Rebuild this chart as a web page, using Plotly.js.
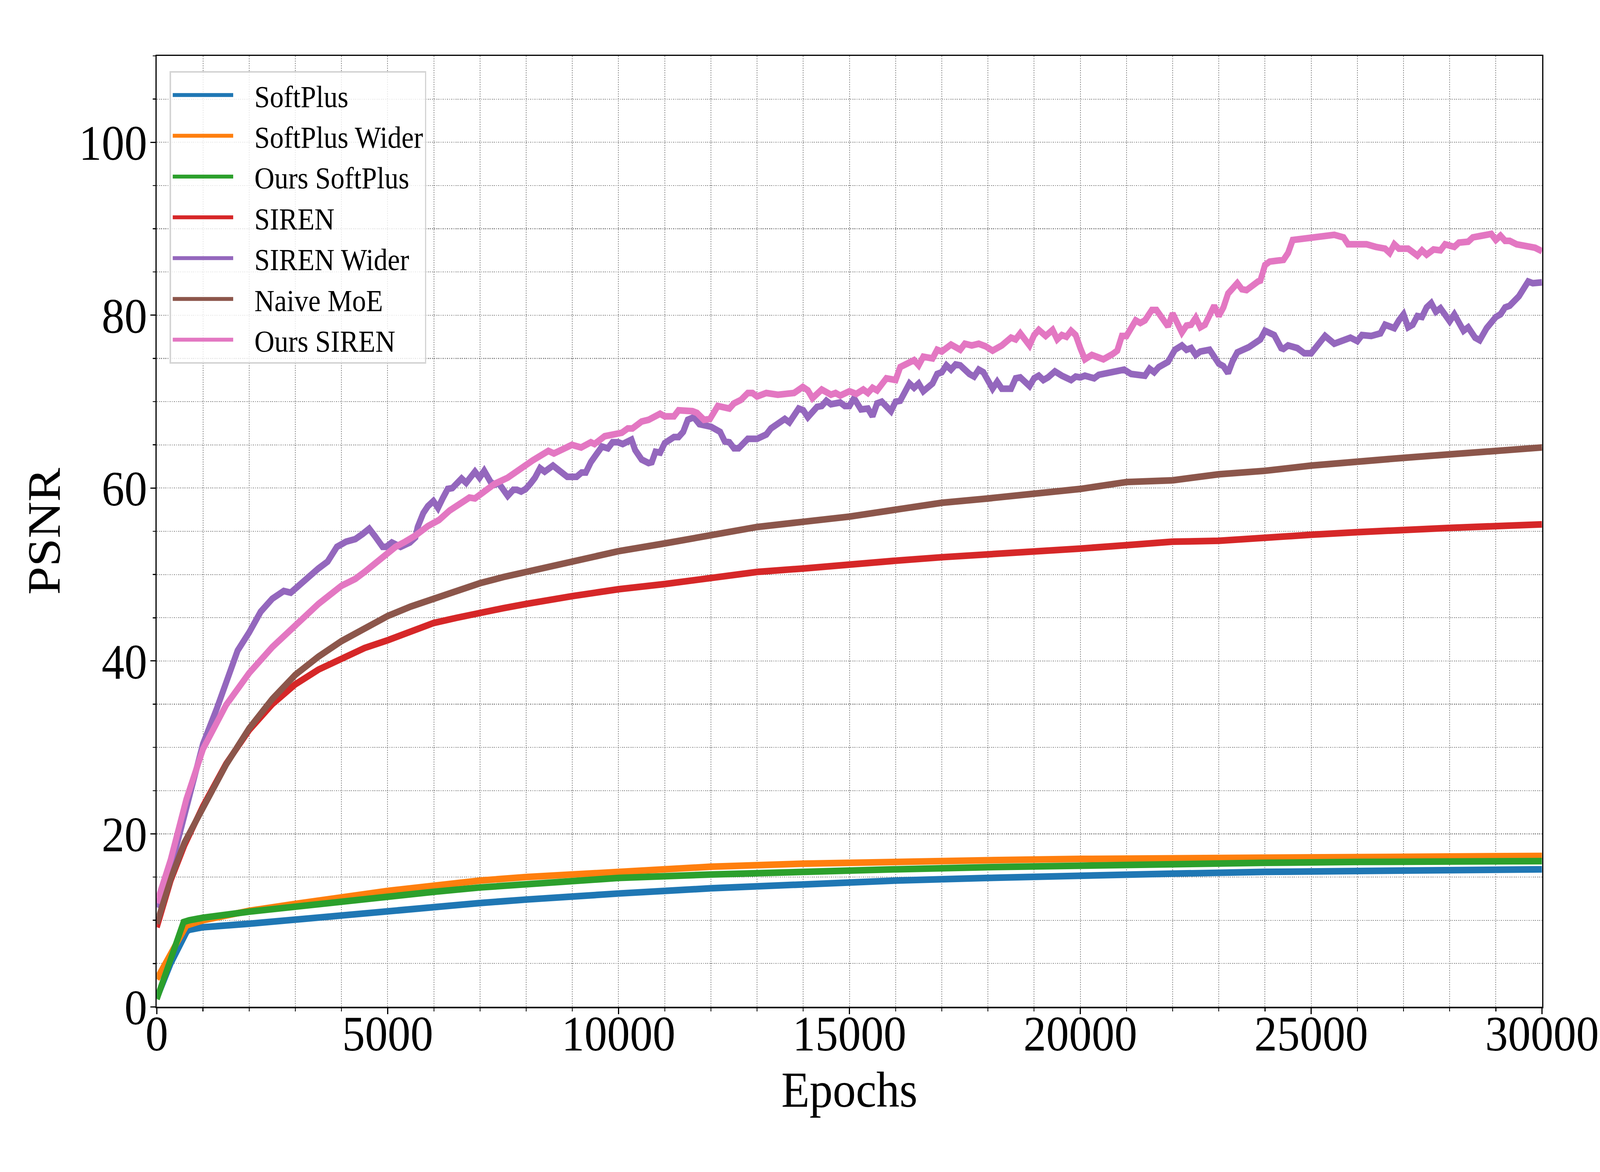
<!DOCTYPE html>
<html>
<head>
<meta charset="utf-8">
<script src="https://cdn.plot.ly/plotly-3.0.1.min.js"></script>
<style>
  html, body { margin: 0; padding: 0; background: #fff; overflow: hidden; }
  #chart { width: 4500px; height: 3000px; transform-origin: 0 0; }
</style>
</head>
<body>
<div id="chart"></div>
<script>
'use strict';

// Series names and colours (matplotlib tab10)
var seriesNames = ['SoftPlus', 'SoftPlus Wider', 'Ours SoftPlus', 'SIREN', 'SIREN Wider', 'Naive MoE', 'Ours SIREN'];
var seriesColors = ['#1f77b4', '#ff7f0e', '#2ca02c', '#d62728', '#9467bd', '#8c564b', '#e377c2'];

var softplusEpochs = [0, 300, 650, 700, 800, 1000, 2000, 3000, 4000, 5000, 6000, 7000, 8000, 9000, 10000,
    12000, 14000, 16000, 18000, 20000, 22000, 24000, 26000, 28000, 30000];
var softplusPsnr = [1.0, 5.0, 8.7, 8.9, 9.0, 9.2, 9.6, 10.1, 10.6, 11.1, 11.6, 12.0, 12.4, 12.8, 13.1,
    13.7, 14.2, 14.6, 14.9, 15.2, 15.4, 15.6, 15.7, 15.8, 15.9];

var softplusWiderEpochs = [0, 640, 1000, 2000, 3000, 4000, 5000, 6000, 7000, 8000, 9000, 10000,
    12000, 14000, 16000, 18000, 20000, 22000, 24000, 26000, 28000, 30000];
var softplusWiderPsnr = [3.2, 9.4, 10.0, 11.1, 11.9, 12.7, 13.4, 14.0, 14.6, 15.0, 15.3, 15.6,
    16.2, 16.55, 16.8, 16.95, 17.1, 17.2, 17.3, 17.4, 17.45, 17.45];

var oursSoftplusEpochs = [0, 580, 700, 1000, 2000, 3000, 4000, 5000, 6000, 7000, 8000, 9000, 10000,
    12000, 14000, 16000, 18000, 20000, 22000, 24000, 26000, 28000, 30000];
var oursSoftplusPsnr = [0.9, 9.8, 10.0, 10.3, 11.0, 11.6, 12.2, 12.8, 13.3, 13.8, 14.2, 14.6, 14.9,
    15.3, 15.65, 15.9, 16.15, 16.35, 16.5, 16.65, 16.75, 16.8, 16.85];

var sirenEpochs = [0, 300, 600, 1000, 1500, 2000, 2500, 3000, 3500, 4000, 4500, 5000, 5500, 6000, 6500,
    7000, 7500, 8000, 8500, 9000, 9500, 10000, 11000, 12000, 13000, 14000, 15000, 16000, 17000, 18000,
    19000, 20000, 21000, 22000, 23000, 24000, 25000, 26000, 27000, 28000, 29000, 30000];
var sirenPsnr = [9.2, 14.6, 18.7, 23.2, 28.1, 32.0, 35.0, 37.3, 39.0, 40.3, 41.5, 42.4, 43.4, 44.4, 45.0,
    45.6, 46.1, 46.6, 47.1, 47.5, 47.9, 48.3, 48.9, 49.6, 50.3, 50.7, 51.2, 51.6, 52.0, 52.3,
    52.7, 53.0, 53.4, 53.8, 53.9, 54.3, 54.6, 54.9, 55.2, 55.4, 55.6, 55.8];

var sirenWiderEpochs = [0, 300, 640, 1000, 1300, 1500, 1750, 2000, 2250, 2500, 2750, 2900, 3100, 3300,
    3500, 3700, 3900, 4100, 4300, 4460, 4600, 4730, 4890, 4970, 5090, 5280, 5480, 5600, 5650, 5770,
    5870, 5990, 6090, 6190, 6300, 6400, 6480, 6600, 6700, 6790, 6890, 6990, 7090, 7230, 7320, 7400,
    7500, 7600, 7720, 7800, 7890, 7990, 8090, 8190, 8300, 8400, 8580, 8730, 8890, 9090, 9200, 9290,
    9400, 9520, 9640, 9770, 9870, 9990, 10090, 10280, 10360, 10500, 10650, 10720, 10800, 10900, 11000,
    11200, 11300, 11400, 11500, 11630, 11750, 12000, 12200, 12300, 12400, 12500, 12600, 12800, 13000,
    13200, 13300, 13600, 13700, 13900, 14000, 14100, 14300, 14400, 14500, 14600, 14800, 14900, 15000,
    15100, 15250, 15400, 15500, 15600, 15700, 15900, 16000, 16100, 16300, 16400, 16500, 16600, 16800,
    16900, 17000, 17100, 17200, 17300, 17400, 17600, 17700, 17800, 17900, 18100, 18200, 18300, 18500,
    18600, 18700, 18900, 19000, 19100, 19200, 19300, 19450, 19600, 19800, 19900, 20000, 20100, 20300,
    20400, 20600, 20700, 20850, 20950, 21100, 21350, 21400, 21500, 21600, 21700, 21900, 22050, 22200,
    22300, 22400, 22500, 22600, 22800, 23000, 23100, 23200, 23300, 23400, 23650, 23900, 24000, 24200,
    24350, 24400, 24500, 24700, 24850, 25000, 25150, 25300, 25500, 25700, 25850, 26000, 26100, 26300,
    26500, 26600, 26800, 26900, 27000, 27100, 27200, 27300, 27400, 27500, 27600, 27700, 27800, 28000,
    28100, 28300, 28400, 28550, 28650, 28800, 28900, 29000, 29100, 29200, 29300, 29500, 29700, 29800,
    30000];
var sirenWiderPsnr = [11.5, 16.0, 23.0, 30.4, 34.5, 37.7, 41.2, 43.3, 45.7, 47.2, 48.1, 47.9, 48.9, 49.7,
    50.7, 51.5, 53.2, 53.8, 54.1, 54.7, 55.3, 54.4, 53.2, 53.2, 53.7, 53.2, 53.7, 54.3, 55.5, 57.1,
    57.9, 58.5, 57.7, 58.8, 59.9, 60.0, 60.4, 61.1, 60.6, 61.1, 61.9, 61.2, 62.0, 60.7, 60.4, 60.6,
    59.9, 59.1, 59.8, 59.8, 59.6, 59.9, 60.5, 61.2, 62.3, 61.9, 62.6, 61.9, 61.3, 61.3, 61.8, 61.8,
    63.0, 63.9, 64.8, 64.6, 65.3, 65.3, 65.1, 65.6, 64.4, 63.3, 62.9, 63.0, 64.2, 64.1, 65.2,
    65.9, 65.9, 66.5, 67.9, 68.2, 67.4, 67.1, 66.5, 65.4, 65.3, 64.6, 64.6, 65.7, 65.7,
    66.2, 66.9, 68.0, 67.6, 69.2, 69.0, 68.2, 69.4, 69.5, 70.1, 69.7, 69.9, 69.5, 69.5,
    70.4, 69.1, 69.2, 68.3, 69.8, 70.0, 68.9, 70.0, 70.1, 72.1, 71.6, 72.1, 71.2, 72.1,
    73.2, 73.4, 74.2, 73.7, 74.3, 74.2, 73.2, 72.9, 73.7, 73.4, 71.5, 72.3, 71.5, 71.5,
    72.7, 72.8, 71.8, 72.7, 73.0, 72.5, 72.8, 73.5, 73.0, 72.5, 72.9, 72.8, 73.0, 72.7,
    73.1, 73.3, 73.3, 73.6, 73.7, 73.2, 73.1, 73.0, 73.8, 73.4, 74.0, 74.6, 76.0, 76.5,
    76.0, 76.2, 75.4, 75.8, 76.0, 74.4, 74.1, 73.3, 74.7, 75.7, 76.3, 77.2, 78.2, 77.7,
    76.2, 76.1, 76.5, 76.2, 75.6, 75.6, 76.6, 77.6, 76.7, 77.1, 77.4, 77.0, 77.7, 77.6,
    77.9, 78.9, 78.5, 79.4, 80.1, 78.6, 78.9, 79.9, 79.8, 80.9, 81.4, 80.4, 80.8, 79.3,
    80.1, 78.2, 78.6, 77.4, 77.1, 78.5, 79.1, 79.8, 80.1, 80.9, 81.1, 82.2, 83.9, 83.7,
    83.8];

var naiveMoeEpochs = [0, 300, 600, 1000, 1500, 2000, 2500, 3000, 3500, 4000, 4500, 5000, 5500, 6000, 6500,
    7000, 7500, 8000, 8500, 9000, 9500, 10000, 11000, 12000, 13000, 14000, 15000, 16000, 17000, 18000,
    19000, 20000, 21000, 22000, 23000, 24000, 25000, 26000, 27000, 28000, 29000, 30000];
var naiveMoePsnr = [9.6, 14.8, 19.0, 23.0, 28.0, 32.2, 35.6, 38.4, 40.5, 42.3, 43.8, 45.2, 46.3, 47.2, 48.2,
    49.0, 49.7, 50.3, 50.8, 51.5, 52.1, 52.7, 53.6, 54.5, 55.5, 56.1, 56.7, 57.5, 58.3, 58.8,
    59.3, 59.9, 60.7, 60.9, 61.6, 62.0, 62.6, 63.1, 63.5, 63.9, 64.3, 64.7];

var oursSirenEpochs = [0, 300, 640, 1000, 1500, 2000, 2500, 3000, 3500, 4000, 4300, 4500, 4700, 5000,
    5170, 5380, 5600, 5870, 6110, 6340, 6620, 6770, 6890, 7110, 7320, 7600, 7890, 8140, 8480, 8600,
    8990, 9190, 9400, 9480, 9700, 9890, 10070, 10200, 10300, 10500, 10650, 10900, 11000, 11200, 11300,
    11600, 11700, 11850, 11980, 12150, 12400, 12500, 12650, 12800, 12900, 13000, 13200, 13450, 13800,
    13990, 14100, 14200, 14400, 14600, 14700, 14800, 15000, 15150, 15300, 15400, 15500, 15600, 15800,
    16000, 16100, 16250, 16400, 16500, 16600, 16800, 16900, 17000, 17200, 17400, 17500, 17650, 17800,
    17950, 18100, 18300, 18500, 18600, 18700, 18900, 19000, 19100, 19250, 19400, 19500, 19600, 19700,
    19800, 19900, 20000, 20100, 20250, 20400, 20500, 20700, 20800, 20900, 21000, 21200, 21300, 21400,
    21550, 21650, 21900, 22000, 22200, 22300, 22400, 22500, 22600, 22700, 22900, 23000, 23100, 23200,
    23400, 23500, 23600, 23850, 23900, 24000, 24100, 24400, 24500, 24600, 25000, 25100, 25500, 25700,
    25800, 26000, 26200, 26400, 26600, 26700, 26800, 26900, 27100, 27300, 27400, 27500, 27650, 27800,
    27900, 28100, 28200, 28400, 28500, 28700, 28900, 29000, 29100, 29200, 29300, 29450, 29700, 29850,
    30000];
var oursSirenPsnr = [12.0, 17.0, 24.0, 29.8, 34.9, 38.6, 41.6, 44.2, 46.6, 48.7, 49.5, 50.3, 51.2, 52.5,
    53.2, 53.8, 54.5, 55.6, 56.3, 57.4, 58.4, 58.9, 58.8, 59.6, 60.5, 61.2, 62.4, 63.2, 64.3, 64.0,
    65.0, 64.7, 65.3, 65.1, 66.0, 66.2, 66.4, 66.9, 66.9, 67.7, 67.9, 68.6, 68.3, 68.3, 69.0,
    68.9, 68.7, 67.9, 68.0, 69.5, 69.2, 69.8, 70.2, 71.0, 71.0, 70.6, 71.0, 70.8, 71.0,
    71.7, 71.3, 70.4, 71.4, 70.8, 71.0, 70.7, 71.2, 70.9, 71.4, 71.0, 71.6, 71.3, 72.7,
    72.5, 74.0, 74.4, 74.8, 74.2, 75.2, 75.0, 76.0, 75.8, 76.6, 76.0, 76.7, 76.5, 76.7,
    76.4, 75.9, 76.5, 77.4, 77.2, 77.9, 76.5, 77.7, 78.3, 77.6, 78.3, 77.2, 77.7, 77.5,
    78.2, 77.7, 76.2, 74.9, 75.4, 75.0, 74.9, 75.5, 75.9, 77.6, 77.6, 79.4, 79.1, 79.4,
    80.6, 80.6, 78.7, 80.2, 78.0, 78.8, 78.9, 79.7, 78.6, 78.9, 81.1, 79.9, 80.9, 82.5,
    83.7, 83.0, 82.9, 83.9, 84.0, 85.8, 86.2, 86.4, 87.2, 88.7, 89.0, 89.1, 89.3, 89.0,
    88.2, 88.2, 88.2, 87.9, 87.7, 87.2, 88.2, 87.7, 87.7, 86.9, 87.5, 87.0, 87.6, 87.5,
    88.2, 87.9, 88.4, 88.5, 89.0, 89.2, 89.4, 88.7, 89.2, 88.6, 88.6, 88.2, 88.0, 87.8,
    87.4];

var xTickStep = 5000, xMinorStep = 1000;
var yTickStep = 20, yMinorStep = 5;

function getSeries () {

    var xs = [softplusEpochs, softplusWiderEpochs, oursSoftplusEpochs, sirenEpochs,
        sirenWiderEpochs, naiveMoeEpochs, oursSirenEpochs];
    var ys = [softplusPsnr, softplusWiderPsnr, oursSoftplusPsnr, sirenPsnr,
        sirenWiderPsnr, naiveMoePsnr, oursSirenPsnr];

    return seriesNames.map(function(name, i){
        return {
            type: 'scatter',
            mode: 'lines',
            // en space + thin space: gap between legend line and label, as in the original
            name: '\u2002\u2009' + name,
            x: xs[i],
            y: ys[i],
            line: { color: seriesColors[i], width: 17 },
            hoverinfo: 'none'
        };
    });
}

function axisStyle (dtick, minorStep, range, title, labelShift, titleGap) {
    var gridColor = '#8f8f8f';
    return {
        range: range,
        tick0: 0,
        dtick: dtick,
        tickformat: 'd',
        ticks: 'outside',
        ticklen: 15,
        tickwidth: 3,
        tickcolor: '#000',
        ticklabelstandoff: labelShift,
        tickfont: { family: 'Liberation Serif', size: 128, color: '#000' },
        showline: true,
        linecolor: '#000',
        linewidth: 3.5,
        mirror: true,
        showgrid: true,
        gridcolor: gridColor,
        gridwidth: 2.2,
        griddash: 'dot',
        zeroline: false,
        automargin: false,
        minor: {
            dtick: minorStep,
            tick0: 0,
            ticks: 'outside',
            ticklen: 8,
            tickwidth: 2.5,
            tickcolor: '#000',
            showgrid: true,
            gridcolor: gridColor,
            gridwidth: 2.2,
            griddash: 'dot'
        },
        title: {
            text: title,
            font: { family: 'Liberation Serif', size: 130, color: '#000' },
            standoff: titleGap
        }
    };
}

function draw (node) {

    // The figure is laid out at 4500x3000; stretch it onto the real window
    var sx = (window.innerWidth || 4500) / 4500;
    var sy = (window.innerHeight || 3000) / 3000;
    node.style.transform = 'scale(' + sx + ',' + sy + ')';

    Plotly.newPlot(node, getSeries(), {
        width: 4500,
        height: 3000,
        paper_bgcolor: '#fff',
        plot_bgcolor: '#fff',
        font: { family: 'Liberation Serif', color: '#000' },
        margin: { l: 441, r: 163, t: 143, b: 423, pad: 0 },
        xaxis: axisStyle(xTickStep, xMinorStep, [0, 30000], 'Epochs', -60, 16),
        yaxis: axisStyle(yTickStep, yMinorStep, [0, 110], 'PSNR', -17, 10),
        showlegend: true,
        legend: {
            x: 0.0092,
            y: 0.984,
            xanchor: 'left',
            yanchor: 'top',
            bgcolor: 'rgba(255,255,255,0.8)',
            bordercolor: '#d4d4d4',
            borderwidth: 4,
            font: { family: 'Liberation Serif', size: 78, color: '#000' },
            itemwidth: 170,
            tracegroupgap: 0
        }
    }, { displayModeBar: false, staticPlot: true });
}

draw(document.getElementById('chart'));
</script>
</body>
</html>
